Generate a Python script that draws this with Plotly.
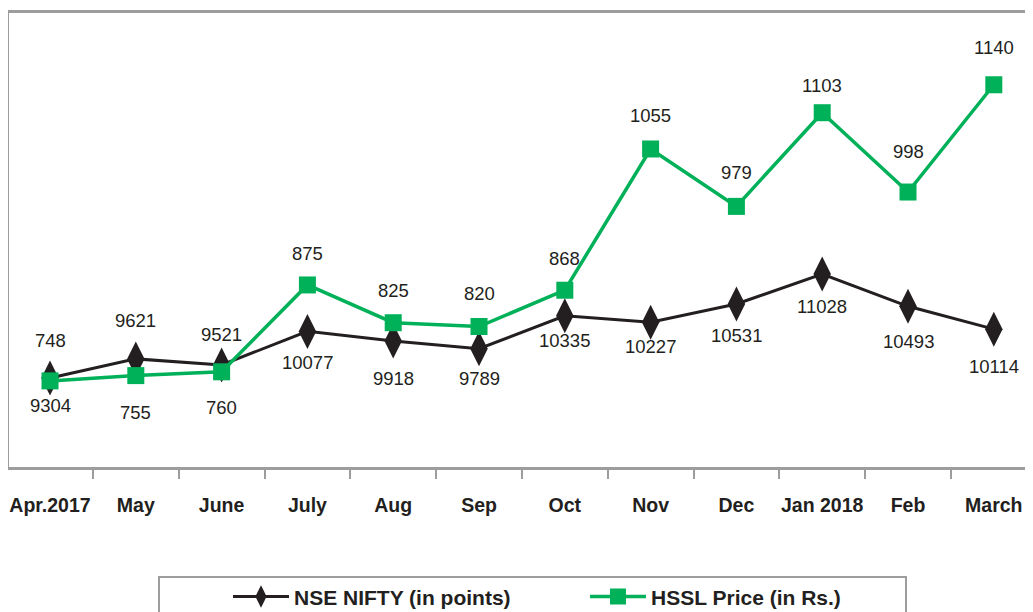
import plotly.graph_objects as go

months = ["Apr.2017", "May", "June", "July", "Aug", "Sep", "Oct", "Nov",
          "Dec", "Jan 2018", "Feb", "March"]
nifty = [9304, 9621, 9521, 10077, 9918, 9789, 10335, 10227, 10531, 11028, 10493, 10114]
hssl = [748, 755, 760, 875, 825, 820, 868, 1055, 979, 1103, 998, 1140]

# label offsets (px) relative to the marker
nifty_shift = [-27, 38, 30, -31, -38, -30, -25, -24, -31, -32, -35, -37]
hssl_shift = [40, -37, -36, 31, 32, 33, 32, 33, 34, 27, 41, 37]

BLACK = "#231f20"
GREEN = "#00b159"
GRAY = "#9d9d9d"
LABEL_FONT = dict(family="Liberation Sans, Arial, sans-serif", size=18.5, color=BLACK)

xs = list(range(len(months)))

fig = go.Figure()
fig.add_trace(go.Scatter(
    x=xs, y=nifty, name="NSE NIFTY (in points)", mode="lines+markers",
    line=dict(color=BLACK, width=3),
    marker=dict(symbol="diamond-tall", size=25, color=BLACK),
    yaxis="y"))
fig.add_trace(go.Scatter(
    x=xs, y=hssl, name="HSSL Price (in Rs.)", mode="lines+markers",
    line=dict(color=GREEN, width=3.5),
    marker=dict(symbol="square", size=17, color=GREEN),
    yaxis="y2"))

annotations = []
for i, v in enumerate(nifty):
    annotations.append(dict(x=i, y=v, xref="x", yref="y", text=str(v), showarrow=False,
                            yshift=nifty_shift[i], font=LABEL_FONT))
for i, v in enumerate(hssl):
    annotations.append(dict(x=i, y=v, xref="x", yref="y2", text=str(v), showarrow=False,
                            yshift=hssl_shift[i], font=LABEL_FONT))

PW = 1032.0  # plot width in px

fig.update_layout(
    width=1033, height=612,
    margin=dict(l=1, r=0, t=5, b=153, autoexpand=False),
    paper_bgcolor="white", plot_bgcolor="white",
    showlegend=True,
    legend=dict(orientation="h", x=0.2122, xanchor="left", y=-0.286, yanchor="middle",
                font=dict(family="Liberation Sans, Arial, sans-serif", size=21, color=BLACK,
                          weight="bold"),
                itemwidth=56, entrywidth=286, entrywidthmode="pixels",
                bgcolor="rgba(0,0,0,0)", borderwidth=0),
    xaxis=dict(range=[-0.478, 11.55], tickmode="array", tickvals=xs, ticktext=months,
               ticks="", ticklabelstandoff=19, showgrid=False, zeroline=False,
               automargin=False,
               showline=True, linecolor=GRAY, linewidth=3, mirror=True,
               tickfont=dict(family="Liberation Sans, Arial, sans-serif", size=19.5,
                             color=BLACK, weight="bold"),
               minor=dict(ticks="outside", tick0=0.5, dtick=1, ticklen=9, tickwidth=2,
                          tickcolor=GRAY, showgrid=False)),
    yaxis=dict(range=[7828, 15357], showgrid=False, zeroline=False, showticklabels=False,
               automargin=False,
               showline=True, linecolor=GRAY, linewidth=3, ticks=""),
    yaxis2=dict(range=[634, 1235], overlaying="y", side="right", showgrid=False,
                automargin=False,
                zeroline=False, showticklabels=False, showline=False, ticks=""),
    annotations=annotations,
    shapes=[dict(type="rect", xref="paper", yref="paper",
                 x0=(151 - 1) / PW, x1=(898 - 1) / PW,
                 y0=(459 - 569) / 454, y1=(459 - 640) / 454,
                 line=dict(color=GRAY, width=2), fillcolor="rgba(0,0,0,0)")],
)

fig.write_html("out.html")
